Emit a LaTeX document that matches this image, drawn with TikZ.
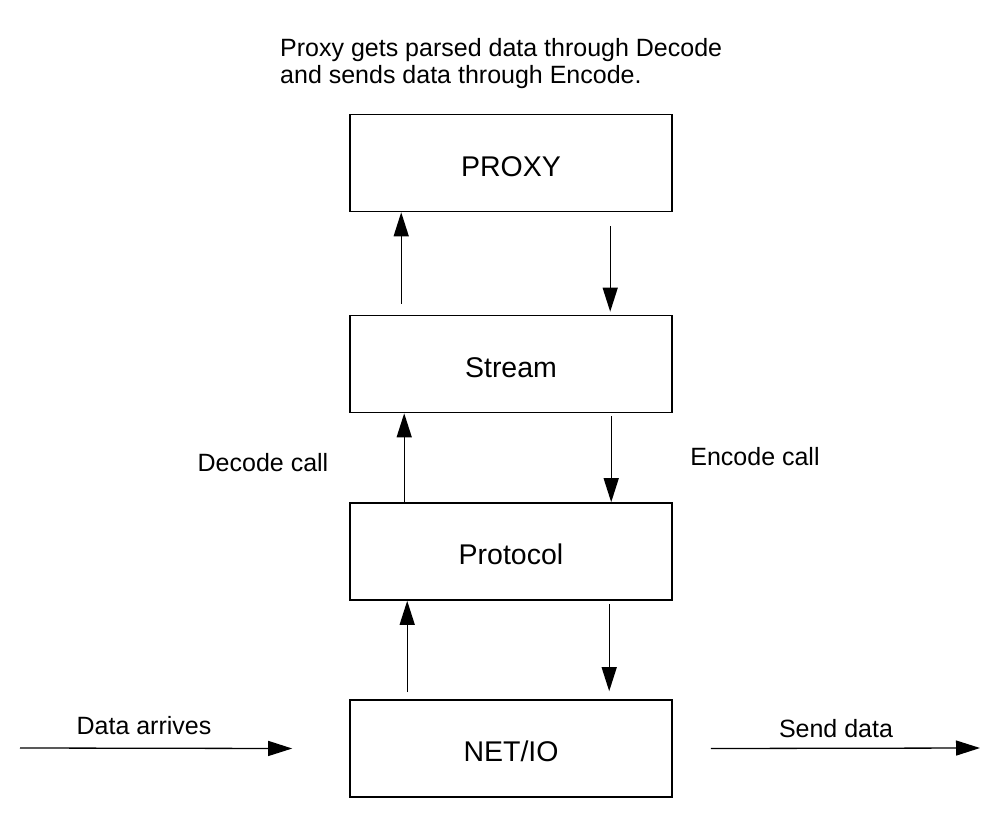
\documentclass[tikz,border=0pt]{standalone}
\usepackage{fontspec}
\setmainfont{Liberation Sans}
\usetikzlibrary{arrows.meta,calc}
\tikzset{
  layer/.style={draw,line width=1.6pt,minimum width=322pt,minimum height=97pt,inner sep=0pt,
    text height=26pt,text depth=0pt,font=\fontsize{28.5}{32}\selectfont},
  flow/.style={line width=1.3pt,-{Triangle[length=24pt,width=15pt]}},
  caption/.style={inner sep=0pt,font=\fontsize{25}{27.5}\selectfont}
}
\begin{document}
\begin{tikzpicture}[x=1pt,y=-1pt]
      \useasboundingbox (0,0) rectangle (986,828);
      \foreach \nm/\yy/\txt in {%
        proxy/163/PROXY,
        stream/364/Stream,
        protocol/551.5/Protocol,
        netio/748.5/{NET/IO}}{%
          \node[layer] (\nm) at (511,\yy) {\txt};
        }
      \foreach \lo/\hi/\ux/\ug/\dx/\dg/\dt in {%
        stream/proxy/52/11/261/14/3,
        protocol/stream/55/0/262/3/0,
        netio/protocol/58/7/260/3/8}{%
          \draw[flow] ([xshift=\ux pt,yshift=\ug pt]\lo.north west) -- ([xshift=\ux pt]\hi.south west);
          \draw[flow] ([xshift=\dx pt,yshift=-\dg pt]\hi.south west) -- ([xshift=\dx pt,yshift=\dt pt]\lo.north west);
        }
      \coordinate (inflow) at (20,748);
      \coordinate (outflow) at (980,748);
      \draw[flow] (inflow) -- ([xshift=-57pt]netio.west);
      \draw[flow] ([xshift=38pt]netio.east) -- (outflow);
      \node[caption,anchor=north west,align=left] (note) at (280,38)
        {Proxy gets parsed data through Decode\\and sends data through Encode.};
      \node[caption] (decode) at (263,463) {Decode call};
      \node[caption] (encode) at (755,457) {Encode call};
      \node[caption] (arrives) at (144,726) {Data arrives};
      \node[caption] (send) at (836,729) {Send data};
\end{tikzpicture}
\end{document}
